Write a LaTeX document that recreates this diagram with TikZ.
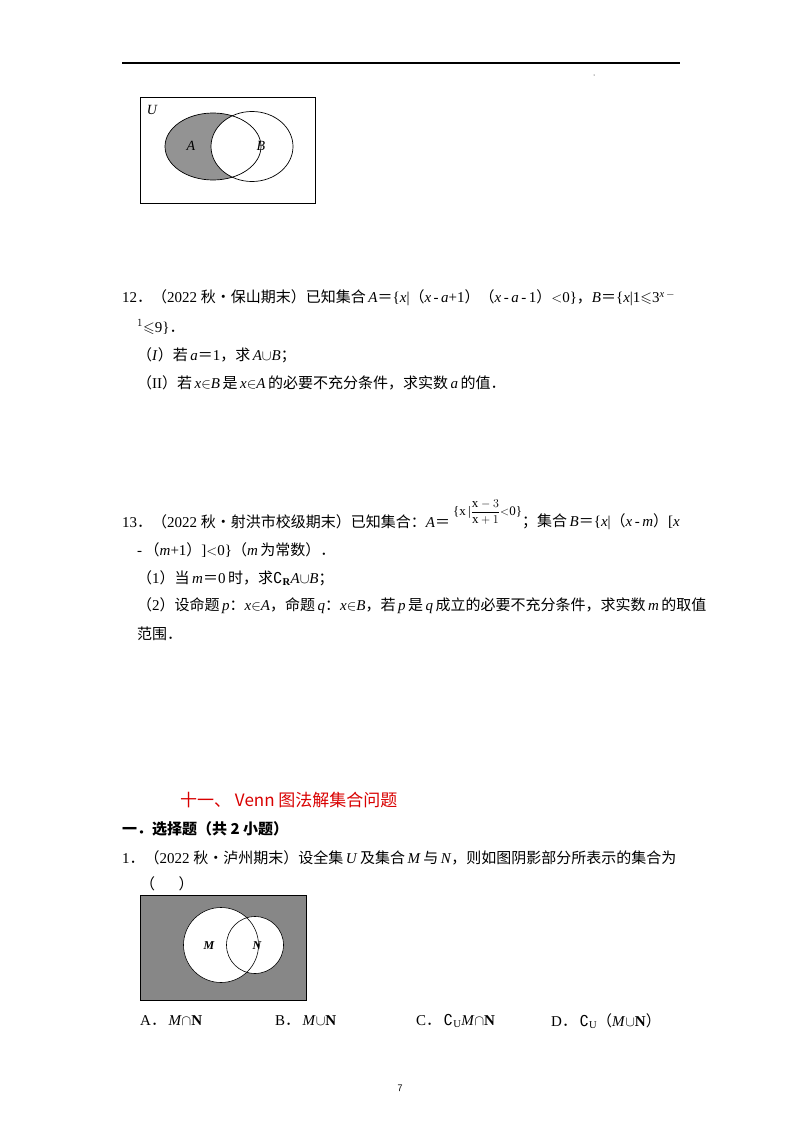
\documentclass[tikz,border=0pt]{standalone}
\usepackage{amsmath,amssymb}
\usepackage{fontspec}
\setmainfont{Liberation Serif}
\newfontfamily\cjk{Noto Sans CJK SC}
\newfontfamily\dvs{DejaVu Sans}
\newcommand{\z}[1]{{\cjk #1}}
\newcommand{\ii}[1]{\textit{#1}}
\newcommand{\cmp}{{\dvs ∁}}
\begin{document}
\begin{tikzpicture}[x=1pt,y=-1pt,
  txt/.style={anchor=west,inner sep=0pt,font=\fontsize{15}{17}\selectfont},
  lbl/.style={inner sep=0pt,font=\fontsize{14}{16}\selectfont\itshape}]
\useasboundingbox (0,0) rectangle (800,1132);
\fill[white] (0,0) rectangle (800,1132);
\draw[line width=1.3pt] (122,63) -- (680,63);
\fill (594,75) circle (0.5);
% Venn 1
\draw[line width=0.7pt] (140,97) rectangle (315,203);
\begin{scope}
 \clip (213,146.5) ellipse [x radius=48,y radius=33.5];
 \fill[gray!85] (140,97) rectangle (315,203);
 \fill[white] (252,146.5) ellipse [x radius=41,y radius=35];
\end{scope}
\draw[line width=0.7pt] (213,146.5) ellipse [x radius=48,y radius=33.5];
\draw[line width=0.7pt] (252,146.5) ellipse [x radius=41,y radius=35];
\node[lbl] (U) at (152,110) {U};
\node[lbl] (A) at (191,146) {A};
\node[lbl] (B) at (261,146) {B};
% Problem 12
\node[txt] (p12a) at (122,298) {12\z{．（}2022 \z{秋•保山期末）已知集合}\,\ii{A}\z{＝}\{\ii{x}|\z{（}\ii{x}\,-\,\ii{a}+1\z{）（}\ii{x}\,-\,\ii{a}\,-\,1\z{）}$<$0\}\z{，}\ii{B}\z{＝}\{\ii{x}|1$\leqslant$3$^{\ii{x}\,-}$};
\node[txt] (p12b) at (137,327) {$^{1}$$\leqslant$9\}\z{．}};
\node[txt] (p12c) at (137,355) {\z{（}\ii{I}\z{）若}\,\ii{a}\z{＝}1\z{，求}\,\ii{A}$\cup$\ii{B}\z{；}};
\node[txt] (p12d) at (137,383) {\z{（}II\z{）若}\,\ii{x}$\in$\ii{B}\,\z{是}\,\ii{x}$\in$\ii{A}\,\z{的必要不充分条件，求实数}\,\ii{a}\,\z{的值．}};
% Problem 13
\node[txt] (p13a) at (122,522) {13\z{．（}2022 \z{秋•射洪市校级期末）已知集合：}\ii{A}\z{＝}};
\node[anchor=west,inner sep=0pt,font=\fontsize{13}{15}\selectfont] (frac) at (453,512) {\{x\,|$\dfrac{\mathrm{x}-3}{\mathrm{x}+1}$$<$0\}};
\node[txt] (p13b) at (522,522) {\z{；集合}\,\ii{B}\z{＝}\{\ii{x}|\z{（}\ii{x}\,-\,\ii{m}\z{）}[\ii{x}};
\node[txt] (p13c) at (137,550) {-\,\z{（}\ii{m}+1\z{）}]$<$0\}\z{（}\ii{m}\,\z{为常数）．}};
\node[txt] (p13d) at (137,578) {\z{（}1\z{）当}\,\ii{m}\z{＝}0\,\z{时，求}\cmp$_{\mathbf{R}}$\ii{A}$\cup$\ii{B}\z{；}};
\node[txt] (p13e) at (137,606) {\z{（}2\z{）设命题}\,\ii{p}\z{：}\ii{x}$\in$\ii{A}\z{，命题}\,\ii{q}\z{：}\ii{x}$\in$\ii{B}\z{，若}\,\ii{p}\,\z{是}\,\ii{q}\,\z{成立的必要不充分条件，求实数}\,\ii{m}\,\z{的取值}};
\node[txt] (p13f) at (137,634) {\z{范围．}};
% Section
\node[txt,text=red!85!black,font=\cjk\fontsize{17}{19}\selectfont] (title) at (180,800) {十一、 Venn 图法解集合问题};
\node[txt,font=\cjk\bfseries\fontsize{15}{17}\selectfont] (sec) at (122,829) {一．选择题（共 2 小题）};
\node[txt] (q1) at (122,858) {1\z{．（}2022 \z{秋•泸州期末）设全集}\,\ii{U}\,\z{及集合}\,\ii{M}\,\z{与}\,\ii{N}\z{，则如图阴影部分所表示的集合为}};
\node[txt] (q1b) at (140,884) {\z{（\quad\;\;）}};
% Venn 2
\fill[gray!95!black!90] (140,895) rectangle (306,1000);
\draw[line width=0.6pt] (140,895) rectangle (306,1000);
\fill[white] (221,945) circle (37.5);
\fill[white] (255,945) circle (28.5);
\draw[line width=0.6pt] (221,945) circle (37.5);
\draw[line width=0.6pt] (255,945) circle (28.5);
\node[lbl,font=\bfseries\itshape\fontsize{12}{14}\selectfont] (M) at (209,946) {M};
\node[lbl,font=\bfseries\itshape\fontsize{12}{14}\selectfont] (N) at (257,946) {N};
% Options
\node[txt] (oa) at (140,1021) {A\z{．}\,\ii{M}$\cap$\textbf{N}};
\node[txt] (ob) at (275,1021) {B\z{．}\,\ii{M}$\cup$\textbf{N}};
\node[txt] (oc) at (416,1021) {C\z{．}\,\cmp$_{\mathrm{U}}$\ii{M}$\cap$\textbf{N}};
\node[txt] (od) at (551,1021) {D\z{．}\,\cmp$_{\mathrm{U}}$\z{（}\ii{M}$\cup$\textbf{N}\z{）}};
\node[inner sep=0pt,font=\sffamily\fontsize{10}{12}\selectfont] (pg) at (400,1088) {7};
\end{tikzpicture}
\end{document}
